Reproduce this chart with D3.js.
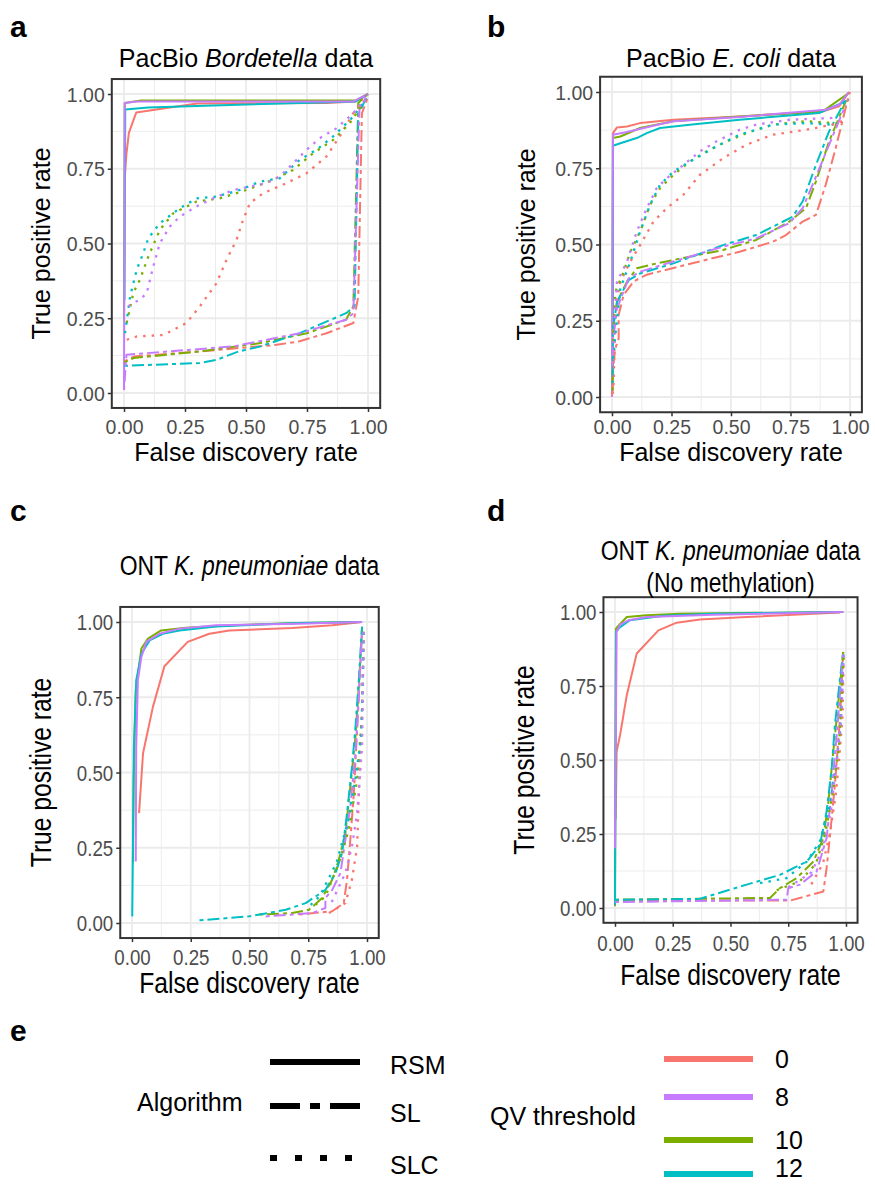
<!DOCTYPE html>
<html>
<head>
<meta charset="utf-8">
<script src="https://cdn.jsdelivr.net/npm/d3@7"></script>
<style>
  body { margin: 0; background: #fff; }
  svg { display: block; }
</style>
</head>
<body>
<div id="chart"></div>
<script>
// ---- data ----
const thresholds = ['0', '8', '10', '12']
const colors = ['#F8766D', '#C77CFF', '#7CAE00', '#00BFC4']
const algorithms = ['RSM', 'SL', 'SLC']
const tickValues = [0, 0.25, 0.5, 0.75, 1]
const minorValues = [0.125, 0.375, 0.625, 0.875]
// draw order of the thresholds (purple ends up on top, as in the figure)
const drawOrder = [0, 2, 3, 1]

// each array: one series per QV threshold (0, 8, 10, 12), points are [FDR, TPR]
const bordetellaRSM = [
  [[0.004,0.73],[0.01,0.8],[0.02,0.87],[0.05,0.938],[0.3,0.968],[0.83,0.97],[0.95,0.975],[1,1]],
  [[0,0.01],[0.003,0.97],[0.05,0.975],[0.94,0.975],[1,1]],
  [[0,0.24],[0.003,0.97],[0.07,0.978],[0.95,0.978],[1,1]],
  [[0.002,0.31],[0.005,0.948],[0.1,0.955],[0.5,0.965],[0.95,0.975],[1,1]]
]
const bordetellaSL = [
  [[0,0.105],[0.04,0.122],[0.31,0.139],[0.625,0.161],[0.72,0.173],[0.83,0.2],[0.94,0.234],[0.96,0.323],[0.975,0.935],[1,0.99]],
  [[0,0.01],[0.01,0.128],[0.45,0.156],[0.72,0.2],[0.91,0.245],[0.94,0.267],[0.965,0.95],[1,1]],
  [[0,0.102],[0.04,0.117],[0.31,0.139],[0.56,0.167],[0.75,0.2],[0.91,0.245],[0.94,0.29],[0.96,0.97],[1,1]],
  [[0,0.091],[0.31,0.1],[0.38,0.111],[0.47,0.139],[0.56,0.156],[0.72,0.2],[0.91,0.267],[0.945,0.29],[0.96,0.93],[1,1]]
]
const bordetellaSLC = [
  [[0.011,0.178],[0.052,0.189],[0.161,0.194],[0.256,0.234],[0.311,0.29],[0.379,0.367],[0.42,0.445],[0.461,0.512],[0.488,0.579],[0.516,0.635],[0.57,0.668],[0.666,0.702],[0.748,0.735],[0.83,0.791],[0.884,0.858],[0.939,0.935],[0.98,0.98]],
  [[0.018,0.29],[0.038,0.301],[0.065,0.312],[0.093,0.334],[0.12,0.423],[0.147,0.501],[0.188,0.557],[0.229,0.59],[0.297,0.624],[0.366,0.651],[0.447,0.679],[0.516,0.69],[0.584,0.702],[0.638,0.724],[0.693,0.768],[0.748,0.813],[0.802,0.852],[0.87,0.885],[0.939,0.935],[0.993,0.99]],
  [[0.011,0.234],[0.038,0.334],[0.065,0.379],[0.1,0.457],[0.147,0.546],[0.202,0.601],[0.297,0.64],[0.393,0.651],[0.502,0.679],[0.611,0.713],[0.693,0.746],[0.775,0.802],[0.857,0.846],[0.925,0.902],[0.98,0.969]],
  [[0.004,0.2],[0.025,0.323],[0.052,0.412],[0.079,0.468],[0.1,0.518],[0.147,0.568],[0.229,0.618],[0.297,0.651],[0.379,0.657],[0.475,0.679],[0.557,0.707],[0.638,0.718],[0.72,0.78],[0.788,0.813],[0.857,0.858],[0.939,0.924],[0.98,0.969]]
]

const ecoliRSM = [
  [[0.003,0.02],[0.004,0.865],[0.021,0.884],[0.063,0.887],[0.118,0.898],[0.258,0.909],[0.536,0.92],[0.884,0.936],[0.954,0.953],[0.996,1]],
  [[0,0],[0.004,0.86],[0.063,0.869],[0.16,0.887],[0.258,0.904],[0.536,0.918],[0.898,0.942],[0.954,0.958],[0.996,1]],
  [[0.002,0.2],[0.004,0.849],[0.035,0.854],[0.118,0.882],[0.258,0.904],[0.536,0.92],[0.884,0.936],[0.996,0.997]],
  [[0.003,0.22],[0.004,0.824],[0.035,0.832],[0.104,0.849],[0.146,0.865],[0.202,0.882],[0.327,0.893],[0.536,0.909],[0.87,0.931],[0.996,0.975]]
]
const ecoliSL = [
  [[0,0.005],[0.004,0.093],[0.014,0.159],[0.028,0.192],[0.028,0.27],[0.049,0.335],[0.091,0.379],[0.146,0.401],[0.258,0.423],[0.397,0.45],[0.536,0.476],[0.676,0.509],[0.731,0.531],[0.801,0.575],[0.857,0.597],[0.898,0.696],[0.94,0.816],[0.982,0.948],[1,1]],
  [[0.002,0.1],[0.004,0.181],[0.021,0.29],[0.07,0.389],[0.118,0.411],[0.258,0.444],[0.467,0.493],[0.606,0.52],[0.745,0.57],[0.801,0.619],[0.843,0.696],[0.912,0.827],[0.982,0.958]],
  [[0.002,0.02],[0.004,0.203],[0.021,0.312],[0.063,0.378],[0.104,0.422],[0.188,0.438],[0.327,0.46],[0.467,0.482],[0.606,0.515],[0.745,0.575],[0.815,0.619],[0.857,0.707],[0.912,0.838],[0.982,0.969]],
  [[0.002,0.04],[0.004,0.225],[0.021,0.312],[0.07,0.383],[0.118,0.405],[0.258,0.438],[0.467,0.498],[0.606,0.531],[0.759,0.591],[0.801,0.641],[0.857,0.761],[0.912,0.871],[0.982,0.975]]
]
const ecoliSLC = [
  [[0.003,0.01],[0.007,0.049],[0.014,0.29],[0.035,0.378],[0.077,0.444],[0.118,0.498],[0.174,0.575],[0.23,0.619],[0.3,0.663],[0.369,0.728],[0.467,0.783],[0.564,0.827],[0.676,0.86],[0.815,0.876],[0.926,0.893],[0.982,0.909]],
  [[0.004,0.148],[0.021,0.378],[0.063,0.444],[0.104,0.542],[0.146,0.619],[0.188,0.685],[0.23,0.717],[0.3,0.761],[0.369,0.805],[0.439,0.838],[0.536,0.876],[0.606,0.893],[0.745,0.909],[0.926,0.915]],
  [[0.004,0.181],[0.014,0.345],[0.049,0.411],[0.077,0.476],[0.118,0.542],[0.16,0.63],[0.202,0.685],[0.258,0.728],[0.327,0.772],[0.397,0.805],[0.481,0.838],[0.564,0.865],[0.676,0.893],[0.815,0.904],[0.94,0.898]],
  [[0.004,0.126],[0.035,0.356],[0.077,0.444],[0.118,0.542],[0.16,0.63],[0.202,0.696],[0.258,0.739],[0.327,0.772],[0.425,0.816],[0.536,0.86],[0.676,0.893],[0.815,0.898],[0.926,0.893]]
]

const kpnRSM = [
  [[0.03,0.365],[0.047,0.564],[0.089,0.718],[0.138,0.853],[0.237,0.934],[0.329,0.961],[0.414,0.972],[0.682,0.98],[0.852,0.989],[0.979,1]],
  [[0.016,0.204],[0.018,0.586],[0.025,0.807],[0.04,0.884],[0.061,0.934],[0.117,0.961],[0.202,0.978],[0.357,0.989],[0.71,0.994],[0.979,1]],
  [[0.004,0.2],[0.007,0.475],[0.016,0.773],[0.04,0.912],[0.068,0.945],[0.124,0.972],[0.23,0.981],[0.428,0.989],[0.71,0.997],[0.979,1]],
  [[0.001,0.022],[0.004,0.254],[0.008,0.586],[0.018,0.807],[0.04,0.895],[0.075,0.939],[0.131,0.961],[0.202,0.972],[0.357,0.985],[0.71,0.997],[0.979,1]]
]
const kpnSL = [
  [[0.71,0.028],[0.852,0.039],[0.901,0.066],[0.915,0.144],[0.929,0.276],[0.944,0.431],[0.958,0.641],[0.972,0.862],[0.979,0.984]],
  [[0.569,0.022],[0.767,0.033],[0.823,0.05],[0.823,0.083],[0.852,0.11],[0.887,0.166],[0.908,0.276],[0.929,0.387],[0.951,0.564],[0.965,0.751],[0.979,0.972]],
  [[0.541,0.028],[0.682,0.033],[0.753,0.044],[0.809,0.083],[0.852,0.144],[0.88,0.21],[0.908,0.298],[0.929,0.453],[0.951,0.619],[0.965,0.785],[0.979,0.984]],
  [[0.287,0.009],[0.499,0.022],[0.654,0.044],[0.739,0.066],[0.823,0.11],[0.866,0.166],[0.894,0.232],[0.915,0.365],[0.936,0.519],[0.95,0.641],[0.965,0.807],[0.979,0.984]]
]
const kpnSLC = [
  [[0.838,0.033],[0.908,0.066],[0.936,0.144],[0.958,0.254],[0.965,0.42],[0.979,0.696],[0.986,0.972]],
  [[0.85,0.07],[0.908,0.166],[0.936,0.254],[0.958,0.365],[0.979,0.586],[0.986,0.972]],
  [[0.78,0.06],[0.823,0.088],[0.88,0.199],[0.922,0.309],[0.958,0.475],[0.979,0.696],[0.986,0.972]],
  [[0.76,0.06],[0.8,0.09],[0.87,0.2],[0.92,0.34],[0.955,0.5],[0.975,0.62],[0.982,0.8],[0.986,0.97]]
]

const kpnNoMethRSM = [
  [[0.003,0.3],[0.007,0.528],[0.022,0.584],[0.051,0.719],[0.094,0.86],[0.188,0.938],[0.267,0.964],[0.368,0.975],[0.57,0.983],[0.974,0.998]],
  [[0,0.202],[0.007,0.933],[0.022,0.957],[0.058,0.972],[0.137,0.983],[0.426,0.991],[0.988,1]],
  [[0,0.006],[0.004,0.944],[0.019,0.957],[0.051,0.983],[0.137,0.989],[0.281,0.994],[0.988,1]],
  [[0,0.011],[0.004,0.933],[0.022,0.949],[0.065,0.972],[0.209,0.987],[0.426,0.994],[0.988,1]]
]
const kpnNoMethSL = [
  [[0,0.025],[0.758,0.025],[0.902,0.056],[0.916,0.135],[0.931,0.247],[0.952,0.416],[0.974,0.64],[0.988,0.865]],
  [[0,0.02],[0.743,0.028],[0.75,0.067],[0.801,0.079],[0.873,0.124],[0.916,0.236],[0.938,0.393],[0.96,0.584],[0.988,0.865]],
  [[0,0.028],[0.671,0.034],[0.714,0.067],[0.786,0.101],[0.859,0.157],[0.902,0.236],[0.924,0.36],[0.945,0.528],[0.967,0.697],[0.988,0.865]],
  [[0,0.028],[0.368,0.031],[0.426,0.045],[0.57,0.079],[0.714,0.112],[0.83,0.157],[0.887,0.213],[0.916,0.326],[0.938,0.472],[0.952,0.618],[0.974,0.775],[0.988,0.865]]
]
const kpnNoMethSLC = [
  [[0.85,0.08],[0.9,0.15],[0.93,0.25],[0.955,0.38],[0.97,0.5],[0.985,0.65],[0.99,0.86]],
  [[0.75,0.07],[0.85,0.12],[0.9,0.2],[0.935,0.33],[0.96,0.5],[0.98,0.65],[0.99,0.87]],
  [[0.7,0.06],[0.8,0.09],[0.87,0.15],[0.91,0.25],[0.945,0.4],[0.97,0.55],[0.99,0.86]],
  [[0.628,0.084],[0.743,0.101],[0.83,0.157],[0.887,0.225],[0.931,0.348],[0.96,0.5],[0.975,0.6],[0.99,0.86]]
]

// ---- layout ----
const FONT = "'Liberation Sans', Arial, Helvetica, sans-serif"
const dashes = [null, '4,4,12,4', '2.5,6']

// c and d were exported with a narrower typeface: sx squeezes their text
const panels = [
  { tag: 'a', tagXY: [10, 37], title: [['PacBio ', false], ['Bordetella', true], [' data', false]],
    titleY: [67], xr: [124, 368], yr: [393, 94], yTitleX: 50, xTickY: 434, xTitleY: 461,
    sx: 1, fs: { tick: 19.5, axis: 25, title: 25 },
    series: [bordetellaRSM, bordetellaSL, bordetellaSLC] },
  { tag: 'b', tagXY: [487, 37], title: [['PacBio ', false], ['E. coli', true], [' data', false]],
    titleY: [67], xr: [612, 850], yr: [397, 92], yTitleX: 535, xTickY: 434, xTitleY: 461,
    sx: 1, fs: { tick: 19.5, axis: 25, title: 25 },
    series: [ecoliRSM, ecoliSL, ecoliSLC] },
  { tag: 'c', tagXY: [10, 521], title: [['ONT ', false], ['K. pneumoniae', true], [' data', false]],
    titleY: [575], xr: [132, 367], yr: [923, 622], yTitleX: 51, xTickY: 965, xTitleY: 993,
    sx: 0.85, fs: { tick: 22, axis: 29, title: 27 },
    series: [kpnRSM, kpnSL, kpnSLC] },
  { tag: 'd', tagXY: [487, 521], title: [['ONT ', false], ['K. pneumoniae', true], [' data', false]],
    subtitle: '(No methylation)', titleY: [560, 592], xr: [615, 846], yr: [908, 612], yTitleX: 534, xTickY: 951, xTitleY: 985,
    sx: 0.85, fs: { tick: 22, axis: 29, title: 27 },
    series: [kpnNoMethRSM, kpnNoMethSL, kpnNoMethSLC] }
]

const svg = d3.select('#chart').append('svg')
  .attr('width', 875).attr('height', 1184)
  .style('font-family', FONT)

function drawPanel(p) {
  const x = d3.scaleLinear().domain([0, 1]).range(p.xr)
  const y = d3.scaleLinear().domain([0, 1]).range(p.yr)
  const g = svg.append('g')

  const left = x(-0.05), right = x(1.05), top = y(1.05), bottom = y(-0.05)

  // grid
  g.selectAll('.minx').data(minorValues).join('line')
    .attr('x1', d => x(d)).attr('x2', d => x(d)).attr('y1', top).attr('y2', bottom)
    .attr('stroke', '#EBEBEB').attr('stroke-width', 0.9)
  g.selectAll('.miny').data(minorValues).join('line')
    .attr('y1', d => y(d)).attr('y2', d => y(d)).attr('x1', left).attr('x2', right)
    .attr('stroke', '#EBEBEB').attr('stroke-width', 0.9)
  g.selectAll('.majx').data(tickValues).join('line')
    .attr('x1', d => x(d)).attr('x2', d => x(d)).attr('y1', top).attr('y2', bottom)
    .attr('stroke', '#EBEBEB').attr('stroke-width', 1.8)
  g.selectAll('.majy').data(tickValues).join('line')
    .attr('y1', d => y(d)).attr('y2', d => y(d)).attr('x1', left).attr('x2', right)
    .attr('stroke', '#EBEBEB').attr('stroke-width', 1.8)

  // curves
  const line = d3.line().x(d => x(d[0])).y(d => y(d[1]))
  p.series.forEach((algo, ai) => {
    drawOrder.forEach(ti => {
      g.append('path')
        .attr('d', line(algo[ti]))
        .attr('fill', 'none')
        .attr('stroke', colors[ti])
        .attr('stroke-width', ai === 2 ? 2.3 : 2)
        .attr('stroke-dasharray', dashes[ai])
        .attr('stroke-linejoin', 'round')
    })
  })

  // border
  g.append('rect')
    .attr('x', left).attr('y', top)
    .attr('width', right - left).attr('height', bottom - top)
    .attr('fill', 'none').attr('stroke', '#333333').attr('stroke-width', 2)

  // axes
  const xAxis = d3.axisBottom(x).tickValues(tickValues).tickFormat(d3.format('.2f')).tickSize(4).tickPadding(4)
  const yAxis = d3.axisLeft(y).tickValues(tickValues).tickFormat(d3.format('.2f')).tickSize(4).tickPadding(4)
  const gx = g.append('g').attr('transform', `translate(0,${bottom})`).call(xAxis)
  const gy = g.append('g').attr('transform', `translate(${left},0)`).call(yAxis)
  ;[gx, gy].forEach(a => {
    a.select('.domain').remove()
    a.selectAll('.tick line').attr('stroke', '#333333').attr('stroke-width', 1.5)
    a.selectAll('.tick text').attr('fill', '#4D4D4D')
      .style('font-size', p.fs.tick + 'px').style('font-family', FONT)
      .attr('transform', p.sx === 1 ? null : `scale(${p.sx},1)`)
  })
  gx.selectAll('.tick text').attr('dy', null).attr('y', p.xTickY - bottom)
  gy.selectAll('.tick text').attr('dy', '0.36em').attr('x', -7 / p.sx)

  // axis titles
  g.append('text')
    .attr('transform', `translate(${(left + right) / 2},${p.xTitleY}) scale(${p.sx},1)`)
    .attr('text-anchor', 'middle').style('font-size', p.fs.axis + 'px')
    .text('False discovery rate')
  g.append('text')
    .attr('transform', `translate(${p.yTitleX},${(top + bottom) / 2}) rotate(-90) scale(${p.sx},1)`)
    .attr('text-anchor', 'middle').style('font-size', p.fs.axis + 'px')
    .text('True positive rate')

  // panel title
  const t = g.append('text')
    .attr('transform', `translate(${(left + right) / 2},${p.titleY[0]}) scale(${p.sx},1)`)
    .attr('text-anchor', 'middle').style('font-size', p.fs.title + 'px')
  p.title.forEach(([s, it]) => t.append('tspan').text(s).style('font-style', it ? 'italic' : 'normal'))
  if (p.subtitle) {
    g.append('text')
      .attr('transform', `translate(${(left + right) / 2},${p.titleY[1]}) scale(${p.sx},1)`)
      .attr('text-anchor', 'middle').style('font-size', p.fs.title + 'px')
      .text(p.subtitle)
  }

  // tag
  g.append('text')
    .attr('x', p.tagXY[0]).attr('y', p.tagXY[1])
    .style('font-size', '30px').style('font-weight', 'bold')
    .text(p.tag)
}

panels.forEach(drawPanel)

// ---- legend (panel e) ----
svg.append('text').attr('x', 10).attr('y', 1041)
  .style('font-size', '30px').style('font-weight', 'bold').text('e')

const algoLegendY = [1062, 1106, 1158]
const qvLegendY = [1059, 1097, 1140, 1174]
const legDashes = [null, '30,10,10,10', '7,18']

svg.append('text').attr('x', 137).attr('y', 1111).style('font-size', '25px').text('Algorithm')
algorithms.forEach((a, i) => {
  svg.append('line')
    .attr('x1', 270).attr('x2', 360)
    .attr('y1', algoLegendY[i]).attr('y2', algoLegendY[i])
    .attr('stroke', '#000').attr('stroke-width', 6)
    .attr('stroke-dasharray', legDashes[i])
  svg.append('text')
    .attr('x', 390).attr('y', algoLegendY[i] + (i === 0 ? 12 : 16))
    .style('font-size', '25px').text(a)
})

svg.append('text').attr('x', 490).attr('y', 1125).style('font-size', '25px').text('QV threshold')
thresholds.forEach((q, i) => {
  svg.append('line')
    .attr('x1', 664).attr('x2', 753)
    .attr('y1', qvLegendY[i]).attr('y2', qvLegendY[i])
    .attr('stroke', colors[i]).attr('stroke-width', 6)
  svg.append('text')
    .attr('x', 775).attr('y', Math.min(qvLegendY[i] + 9, 1177))
    .style('font-size', '25px').text(q)
})
</script>
</body>
</html>
